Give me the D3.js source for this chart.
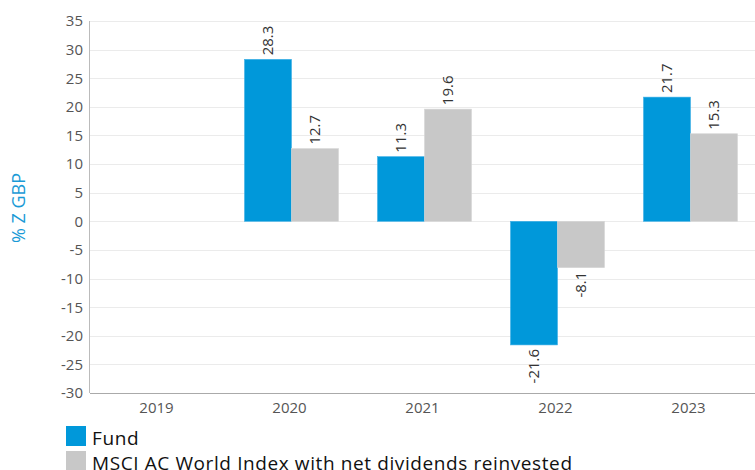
<!DOCTYPE html>
<html><head><meta charset="utf-8">
<script src="https://cdn.jsdelivr.net/npm/d3@7"></script>
<style>body{margin:0;background:#fff;overflow:hidden;} svg{display:block;font-family:"Open Sans", Lato, sans-serif;}</style>
</head><body>
<svg id="c" width="755" height="470"></svg>
<script>
const categories = ["2019","2020","2021","2022","2023"];
const seriesNames = ["Fund","MSCI AC World Index with net dividends reinvested"];
const fundValues = [null, 28.3, 11.3, -21.6, 21.7];
const indexValues = [null, 12.7, 19.6, -8.1, 15.3];
const yTicks = [35,30,25,20,15,10,5,0,-5,-10,-15,-20,-25,-30];
const colors = ["#0098da", "#c8c8c8"];

const svg = d3.select("#c");
const m = {left: 90, right: 755, top: 21, bottom: 393};
const x = d3.scaleBand().domain(categories).range([m.left, m.right]);
const x1 = d3.scaleBand().domain([0,1]).range([0, 94]);
const y = d3.scaleLinear().domain([-30, 35]).range([m.bottom, m.top]);

// gridlines
svg.append("g").selectAll("line").data(yTicks).join("line")
  .attr("x1", m.left).attr("x2", m.right)
  .attr("y1", d => Math.round(y(d)) + 0.5).attr("y2", d => Math.round(y(d)) + 0.5)
  .attr("stroke", "#ebebeb").attr("stroke-width", 1);

// y tick labels
svg.append("g").selectAll("text").data(yTicks).join("text")
  .attr("x", 83).attr("y", d => y(d)).attr("dy", "0.36em")
  .attr("text-anchor", "end").attr("fill", "#555").attr("font-size", 15)
  .text(d => d);

// axis lines
svg.append("line").attr("x1", m.left - 0.5).attr("x2", m.left - 0.5)
  .attr("y1", m.top).attr("y2", m.bottom).attr("stroke", "#bbb");
svg.append("line").attr("x1", m.left).attr("x2", m.right)
  .attr("y1", m.bottom + 0.5).attr("y2", m.bottom + 0.5).attr("stroke", "#aaa");

// x labels
svg.append("g").selectAll("text").data(categories).join("text")
  .attr("x", d => x(d) + x.bandwidth()/2).attr("y", 413)
  .attr("text-anchor", "middle").attr("fill", "#555").attr("font-size", 15)
  .text(d => d);

// y title
svg.append("text").attr("transform", `translate(25,208) rotate(-90)`)
  .attr("text-anchor", "middle").attr("fill", "#1a9ad6").attr("font-size", 18)
  .text("% Z GBP");

// bars
const series = [fundValues, indexValues];
series.forEach((vals, si) => {
  const data = categories.map((c, i) => ({c, v: vals[i]})).filter(d => d.v !== null);
  const g = svg.append("g");
  const bx = d => x(d.c) + x.bandwidth()/2 - 45 + x1(si);
  g.selectAll("rect").data(data).join("rect")
    .attr("x", bx).attr("width", x1.bandwidth())
    .attr("y", d => y(Math.max(0, d.v))).attr("height", d => Math.abs(y(d.v) - y(0)))
    .attr("fill", colors[si]).attr("stroke", si === 0 ? "#3fb0e6" : "#d6d6d6").attr("stroke-width", 0.6);
  g.selectAll("text").data(data).join("text")
    .attr("transform", d => {
      const cx = bx(d) + x1.bandwidth()/2;
      const yy = d.v >= 0 ? y(d.v) - 4 : y(d.v) + 4;
      return `translate(${cx + 5},${yy}) rotate(-90)`;
    })
    .attr("text-anchor", d => d.v >= 0 ? "start" : "end")
    .attr("fill", "#333").attr("font-size", 15)
    .text(d => d.v.toFixed(1));
});

// legend
const lg = svg.append("g");
seriesNames.forEach((n, i) => {
  lg.append("rect").attr("x", 66).attr("y", 426 + i*25).attr("width", 20).attr("height", 20).attr("fill", colors[i]);
  lg.append("text").attr("x", 92).attr("y", 445 + i*25)
    .attr("fill", "#111").attr("font-size", 19).attr("letter-spacing", 0.6).text(n);
});
</script>
</body></html>
